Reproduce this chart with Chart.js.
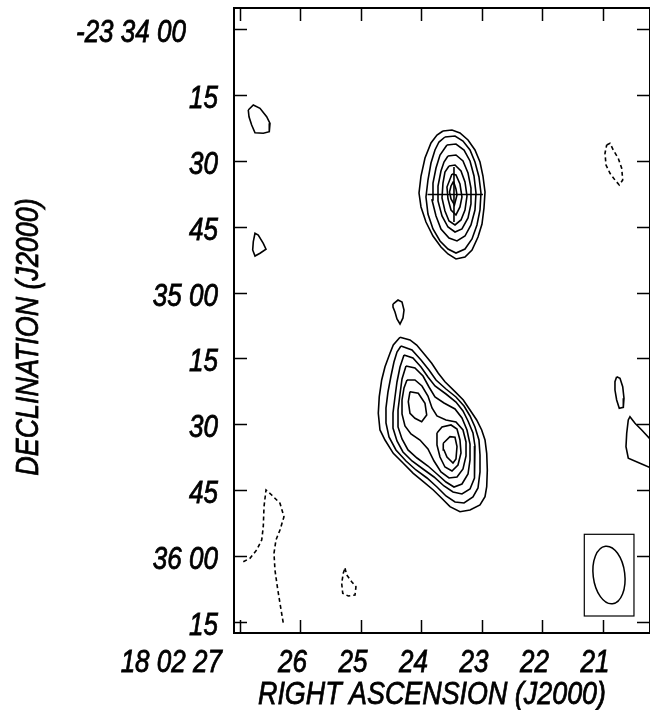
<!DOCTYPE html>
<html>
<head>
<meta charset="utf-8">
<script src="https://cdn.jsdelivr.net/npm/chart.js@4.4.1/dist/chart.umd.min.js"></script>
<style>
html, body { margin: 0; padding: 0; background: #fff; }
#wrap { width: 650px; height: 710px; }
</style>
</head>
<body>
<div id="wrap"><canvas id="contourMap" width="650" height="710"></canvas></div>
<script>
// x = RA seconds of 18h02m, y = arcsec south of -23 34 00
const raTicks = [27, 26, 25, 24, 23, 22, 21];
const raLabels = ['18 02 27', '26', '25', '24', '23', '22', '21'];
const decTicks = [0, 15, 30, 45, 60, 75, 90, 105, 120, 135];
const decLabels = ['-23 34 00', '15', '30', '45', '35 00', '15', '30', '45', '36 00', '15'];

// compact source, outer to inner
const northRings = [
    [[23.645,23.22],[23.496,22.99],[23.364,23.68],[23.231,25.27],[23.116,27.55],[23.033,30.28],[22.984,33.47],[22.950,37.11],[22.967,40.75],[23.000,44.39],[23.066,47.35],[23.165,50.31],[23.281,51.91],[23.430,52.36],[23.562,51.22],[23.678,49.63],[23.810,47.13],[23.926,43.94],[24.008,40.52],[24.041,37.34],[24.008,33.47],[23.942,29.37],[23.843,25.95],[23.744,24.13]],
    [[23.612,24.59],[23.446,24.36],[23.314,25.50],[23.198,27.55],[23.116,30.28],[23.050,33.69],[23.017,37.34],[23.033,41.21],[23.083,44.62],[23.165,47.81],[23.281,50.09],[23.430,51.00],[23.562,50.09],[23.694,48.26],[23.810,45.53],[23.893,42.12],[23.926,38.25],[23.893,34.38],[23.843,30.51],[23.777,27.55],[23.711,25.73]],
    [[23.579,26.41],[23.430,26.18],[23.297,27.55],[23.198,30.05],[23.132,33.47],[23.099,37.34],[23.116,41.21],[23.182,44.62],[23.281,47.13],[23.413,48.26],[23.545,47.58],[23.678,45.53],[23.760,42.57],[23.826,38.93],[23.810,35.06],[23.760,31.64],[23.694,28.69]],
    [[23.562,28.91],[23.430,28.69],[23.314,30.05],[23.231,32.78],[23.182,36.20],[23.182,39.84],[23.231,43.03],[23.331,45.53],[23.446,46.22],[23.562,45.08],[23.661,42.57],[23.727,39.16],[23.727,35.74],[23.678,32.33],[23.628,30.28]],
    [[23.545,31.19],[23.446,30.96],[23.347,32.33],[23.281,34.83],[23.248,38.02],[23.281,41.21],[23.347,43.48],[23.446,44.62],[23.545,43.71],[23.612,41.43],[23.661,38.47],[23.645,35.06],[23.612,32.56]],
    [[23.496,33.01],[23.430,33.24],[23.364,35.29],[23.331,38.25],[23.364,40.52],[23.430,42.34],[23.512,41.21],[23.562,38.70],[23.579,35.97]],
    [[23.471,34.72],[23.430,36.43],[23.413,37.79],[23.455,40.07],[23.512,38.70],[23.537,37.11],[23.512,35.74]]
];

// double source, outer to inner
const southRings = [
    [[24.355,70.19],[24.190,70.80],[24.079,71.94],[23.942,74.22],[23.831,76.11],[23.722,78.38],[23.612,80.30],[23.446,82.57],[23.309,84.46],[23.198,86.74],[23.088,89.02],[23.005,91.29],[22.950,93.57],[22.922,96.60],[22.912,100.40],[22.922,104.20],[22.950,106.48],[23.033,108.37],[23.198,109.50],[23.364,109.89],[23.529,108.75],[23.666,106.84],[23.805,104.95],[23.970,103.06],[24.136,101.15],[24.301,98.87],[24.466,96.60],[24.603,93.57],[24.686,91.29],[24.714,87.49],[24.698,83.71],[24.658,79.91],[24.603,76.88],[24.521,73.83],[24.466,71.94]],
    [[24.339,72.17],[24.157,73.08],[24.008,75.36],[23.876,77.63],[23.760,79.91],[23.595,81.96],[23.430,83.78],[23.297,85.83],[23.198,88.10],[23.116,90.61],[23.050,93.57],[23.033,96.98],[23.033,100.85],[23.066,104.50],[23.149,106.55],[23.297,107.91],[23.446,107.68],[23.595,106.32],[23.744,104.27],[23.909,102.22],[24.091,100.40],[24.256,98.35],[24.422,95.84],[24.537,92.88],[24.587,89.70],[24.587,86.28],[24.554,82.64],[24.504,79.00],[24.455,75.81],[24.405,73.53]],
    [[24.289,74.22],[24.141,74.90],[24.008,76.95],[23.893,79.23],[23.777,81.27],[23.595,83.10],[23.430,84.92],[23.314,86.97],[23.231,89.24],[23.149,91.97],[23.116,94.93],[23.116,98.58],[23.132,102.22],[23.198,104.72],[23.331,105.86],[23.479,105.41],[23.628,104.04],[23.793,101.99],[23.975,100.17],[24.157,98.35],[24.306,96.30],[24.405,93.80],[24.471,90.84],[24.471,87.42],[24.438,83.78],[24.405,80.36],[24.355,76.95]],
    [[24.256,76.72],[24.108,77.18],[23.975,79.00],[23.876,81.50],[23.777,83.78],[23.628,85.14],[23.446,86.51],[23.331,88.56],[23.248,91.29],[23.198,94.48],[23.198,98.12],[23.231,101.31],[23.331,103.59],[23.463,104.27],[23.595,103.13],[23.744,101.31],[23.893,99.49],[24.074,97.67],[24.223,95.84],[24.322,93.34],[24.388,90.61],[24.388,86.74],[24.355,83.10],[24.322,79.68]],
    [[24.240,79.91],[24.108,79.91],[23.992,81.27],[23.893,83.55],[23.826,86.28],[23.744,88.10],[23.595,89.02],[23.430,89.47],[23.314,91.29],[23.264,94.02],[23.264,97.21],[23.314,100.17],[23.413,101.99],[23.545,102.22],[23.678,100.85],[23.793,98.35],[23.893,95.62],[24.025,93.57],[24.174,92.20],[24.273,90.38],[24.322,87.65],[24.322,84.46],[24.289,81.73]],
    [[24.190,82.57],[24.053,82.94],[23.942,85.21],[23.914,87.88],[23.997,89.40],[24.108,88.63],[24.190,87.49],[24.218,84.85]],
    [[23.744,91.97],[23.661,90.61],[23.512,90.15],[23.413,91.06],[23.364,93.57],[23.347,96.53],[23.397,99.26],[23.496,100.63],[23.612,99.72],[23.694,97.44],[23.744,94.71]],
    [[23.640,94.32],[23.529,92.82],[23.446,92.95],[23.413,95.09],[23.430,97.89],[23.479,98.80],[23.579,97.44],[23.628,95.84]]
];

// small positive islands
const solidBlobs = [
    [[26.863,18.44],[26.780,17.30],[26.669,18.05],[26.559,19.97],[26.504,21.47],[26.516,23.38],[26.615,23.75],[26.752,23.61],[26.807,21.86],[26.851,19.97]],
    [[26.780,48.42],[26.752,46.51],[26.698,46.90],[26.615,48.79],[26.570,50.15],[26.669,51.06],[26.752,51.68],[26.790,50.31]],
    [[24.471,62.61],[24.388,61.70],[24.322,62.15],[24.289,63.97],[24.306,65.79],[24.355,67.16],[24.405,66.02],[24.438,64.43],[24.471,63.29]],
    [[20.774,79.16],[20.719,79.52],[20.674,81.43],[20.653,84.07],[20.664,86.12],[20.731,86.35],[20.774,84.46],[20.802,82.19],[20.802,80.30]]
];

// negative islands
const dashedBlobs = [
    [[20.939,26.41],[20.884,26.02],[20.830,27.55],[20.747,29.44],[20.691,31.71],[20.674,34.38],[20.731,35.51],[20.802,34.38],[20.884,32.85],[20.950,30.96],[20.967,28.30]],
    [[25.264,122.78],[25.236,124.30],[25.154,125.83],[25.083,126.97],[25.099,128.86],[25.210,129.08],[25.302,128.47],[25.319,126.19],[25.293,123.91]]
];

// open contours running off the map
const edgeSolid = [[20.223,93.34],[20.360,91.29],[20.471,89.77],[20.554,88.26],[20.582,89.02],[20.608,92.04],[20.620,95.09],[20.582,97.73],[20.360,99.03],[20.223,99.85]];
const edgeDashed = [[26.945,121.27],[26.835,120.50],[26.724,118.61],[26.641,116.33],[26.615,113.31],[26.603,108.75],[26.570,104.95],[26.476,106.09],[26.339,107.98],[26.273,111.03],[26.339,114.06],[26.405,116.33],[26.438,119.36],[26.422,123.16],[26.383,126.97],[26.339,130.75],[26.284,135.30]];

// position marker
const crossH = [[23.901,37.68],[22.984,37.68]];
const crossV = [[23.463,31.42],[23.463,43.94]];

// restoring beam: centre, [major, minor] arcsec, PA deg, and its box corners
const beamCentre = [20.901, 124.30];
const beamAxes = [13.2, 7.2];
const beamPA = 7;
const beamBox = [[21.309, 115.04], [20.488, 133.64]];

const fontFamily = '"Liberation Sans", Arial, sans-serif';

function line(pts, closed, dashed) {
    const data = pts.map(p => ({ x: p[0], y: p[1] }));
    if (closed) data.push({ x: pts[0][0], y: pts[0][1] });
    return {
        data: data,
        showLine: true,
        borderColor: '#000',
        borderWidth: 1.6,
        borderDash: dashed ? [4, 3] : [],
        pointRadius: 0,
        fill: false,
        tension: 0
    };
}

// narrow italic text, like the plotting package's condensed font
function narrowText(ctx, text, x, y, align, size, angle) {
    ctx.save();
    ctx.translate(x, y);
    if (angle) ctx.rotate(angle);
    ctx.scale(0.84, 1);
    ctx.font = 'italic ' + size + 'px ' + fontFamily;
    ctx.textAlign = align;
    ctx.textBaseline = 'alphabetic';
    ctx.lineWidth = 0.8;
    ctx.fillText(text, 0, 0);
    ctx.strokeText(text, 0, 0);
    ctx.restore();
}

const datasets = [];
northRings.forEach(r => datasets.push(line(r, true, false)));
southRings.forEach(r => datasets.push(line(r, true, false)));
solidBlobs.forEach(r => datasets.push(line(r, true, false)));
dashedBlobs.forEach(r => datasets.push(line(r, true, true)));
datasets.push(line(edgeSolid, false, false));
datasets.push(line(edgeDashed, false, true));
datasets.push(line(crossH, false, false));
datasets.push(line(crossV, false, false));

const framePlugin = {
    id: 'frame',
    afterDraw(chart) {
        const ctx = chart.ctx;
        const a = chart.chartArea;
        const x = chart.scales.x;
        const y = chart.scales.y;
        ctx.save();
        ctx.strokeStyle = '#000';
        ctx.fillStyle = '#000';

        // border
        ctx.lineWidth = 2;
        ctx.strokeRect(a.left, a.top, a.right - a.left, a.bottom - a.top);

        // inward ticks on all four sides
        ctx.lineWidth = 1.5;
        ctx.beginPath();
        raTicks.forEach(v => {
            const px = Math.round(x.getPixelForValue(v)) + 0.5;
            ctx.moveTo(px, a.top); ctx.lineTo(px, a.top + 13);
            ctx.moveTo(px, a.bottom); ctx.lineTo(px, a.bottom - 13);
        });
        decTicks.forEach(v => {
            const py = Math.round(y.getPixelForValue(v)) + 0.5;
            ctx.moveTo(a.left, py); ctx.lineTo(a.left + 13, py);
            ctx.moveTo(a.right, py); ctx.lineTo(a.right - 13, py);
        });
        ctx.stroke();

        // tick labels
        decTicks.forEach((v, i) => {
            const py = y.getPixelForValue(v);
            narrowText(ctx, decLabels[i], i === 0 ? 186 : 218, py + 13, 'right', 31);
        });
        raTicks.forEach((v, i) => {
            const px = x.getPixelForValue(v);
            if (i === 0) narrowText(ctx, raLabels[i], 222, 672, 'right', 31);
            else narrowText(ctx, raLabels[i], px - 8, 672, 'center', 31);
        });

        // axis titles
        narrowText(ctx, 'RIGHT ASCENSION (J2000)', 432, 704, 'center', 32);
        narrowText(ctx, 'DECLINATION (J2000)', 38, 337, 'center', 32, -Math.PI / 2);

        // beam box and ellipse
        ctx.lineWidth = 1.2;
        const bx0 = x.getPixelForValue(beamBox[0][0]);
        const by0 = y.getPixelForValue(beamBox[0][1]);
        const bx1 = x.getPixelForValue(beamBox[1][0]);
        const by1 = y.getPixelForValue(beamBox[1][1]);
        ctx.strokeRect(bx0, by0, bx1 - bx0, by1 - by0);
        const cx = x.getPixelForValue(beamCentre[0]);
        const cy = y.getPixelForValue(beamCentre[1]);
        const ry = Math.abs(y.getPixelForValue(beamCentre[1] + beamAxes[0] / 2) - cy);
        const rx = Math.abs(y.getPixelForValue(beamCentre[1] + beamAxes[1] / 2) - cy);
        ctx.lineWidth = 1.5;
        ctx.beginPath();
        ctx.ellipse(cx, cy, rx, ry, -beamPA * Math.PI / 180, 0, 2 * Math.PI);
        ctx.stroke();

        ctx.restore();
    }
};

const ctx = document.getElementById('contourMap').getContext('2d');
const contourMap = new Chart(ctx, {
    type: 'scatter',
    data: { datasets: datasets },
    options: {
        responsive: false,
        animation: false,
        layout: {
            padding: { left: 234, right: 0, top: 8, bottom: 77 }
        },
        scales: {
            x: { type: 'linear', reverse: true, min: 20.223, max: 27.099, display: false },
            y: { type: 'linear', reverse: true, min: -4.78, max: 137.51, display: false }
        },
        plugins: {
            legend: { display: false },
            tooltip: { enabled: false }
        }
    },
    plugins: [framePlugin]
});
</script>
</body>
</html>
